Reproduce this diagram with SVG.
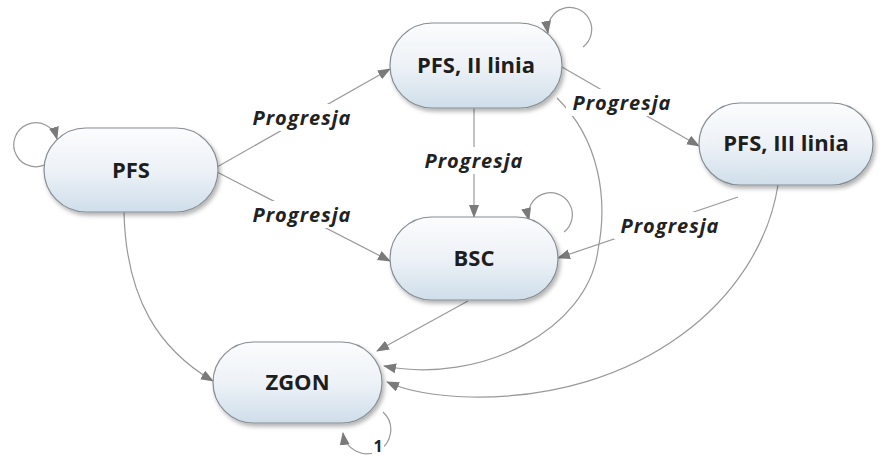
<svg xmlns="http://www.w3.org/2000/svg" width="893" height="456" viewBox="0 0 893 456">
<style>
.node rect{fill:url(#g);stroke:#868d93;stroke-width:1.2;filter:url(#sh)}
.node text{font-family:"Open Sans","Noto Sans",sans-serif;font-weight:bold;font-size:22px;fill:#1e1e1e;text-anchor:middle}
.edge{fill:none;stroke:#999;stroke-width:1.2;marker-end:url(#ah)}
.lbl{font-family:"Open Sans","Noto Sans",sans-serif;font-weight:bold;font-style:italic;font-size:20px;fill:#222;text-anchor:middle;letter-spacing:1px}
.bg{fill:#fff}
</style>
<defs>
<linearGradient id="g" x1="0" y1="0" x2="0" y2="1">
<stop offset="0" stop-color="#fbfcfd"/>
<stop offset="0.5" stop-color="#edf2f7"/>
<stop offset="1" stop-color="#cfdeea"/>
</linearGradient>
<filter id="sh" x="-10%" y="-10%" width="125%" height="135%">
<feDropShadow dx="2" dy="3" stdDeviation="2" flood-color="#000" flood-opacity="0.3"/>
</filter>
<marker id="ah" markerUnits="userSpaceOnUse" markerWidth="14" markerHeight="11" refX="12" refY="5" orient="auto">
<path d="M0,0 L13,5 L0,10 z" fill="#7a7a7a"/>
</marker>
</defs>
<rect width="893" height="456" fill="#fff"/>
<g id="connectors">
<path class="edge" d="M217,167 L390,69"/>
<path class="edge" d="M217,172 L390,261"/>
<path class="edge" d="M474,108 L474,217"/>
<path class="edge" d="M562,67 L699,146"/>
<path class="edge" d="M738,197 L558,258"/>
<path class="edge" d="M468,301 L377,351"/>
<path class="edge" d="M557,98 C600,140 608,200 598,250 C588,330 480,385 384,366"/>
<path class="edge" d="M778,185 C760,300 640,400 470,397 C430,396 405,390 387,382"/>
<path class="edge" d="M124,212 C126,300 160,350 213,381"/>
<path class="edge" d="M48.6,162.6 A22,22 0 1 1 57,139"/>
<path class="edge" d="M583,47 A22,22 0 1 0 548,33"/>
<path class="edge" d="M564,232 A22,22 0 1 0 529,220"/>
<path class="edge" d="M383,412 A24,24 0 1 1 343,433"/>
<rect class="bg" x="246" y="104" width="112" height="27"/>
<text class="lbl" x="302" y="125">Progresja</text>
<rect class="bg" x="246" y="201" width="112" height="27"/>
<text class="lbl" x="302" y="222">Progresja</text>
<rect class="bg" x="418" y="147" width="112" height="27"/>
<text class="lbl" x="474" y="168">Progresja</text>
<rect class="bg" x="566" y="89" width="112" height="27"/>
<text class="lbl" x="622" y="110">Progresja</text>
<rect class="bg" x="614" y="212" width="112" height="27"/>
<text class="lbl" x="670" y="233">Progresja</text>
<rect class="bg" x="372" y="439" width="12" height="15"/>
<text x="378" y="452" font-family="'Open Sans','Noto Sans',sans-serif" font-weight="bold" font-size="16" fill="#222" text-anchor="middle">1</text>
</g>
<g id="n-pfs" class="node"><rect x="44" y="128" width="174" height="84" rx="42"/><text x="131" y="178">PFS</text></g>
<g id="n-pfs2" class="node"><rect x="390" y="23" width="172" height="85" rx="42.5"/><text x="476" y="73">PFS, II linia</text></g>
<g id="n-pfs3" class="node"><rect x="699" y="103" width="174" height="82" rx="41"/><text x="786" y="151">PFS, III linia</text></g>
<g id="n-bsc" class="node"><rect x="390" y="217" width="168" height="83" rx="41.5"/><text x="474" y="266">BSC</text></g>
<g id="n-zgon" class="node"><rect x="213" y="342" width="169" height="81" rx="40.5"/><text x="297.5" y="390">ZGON</text></g>
</svg>
